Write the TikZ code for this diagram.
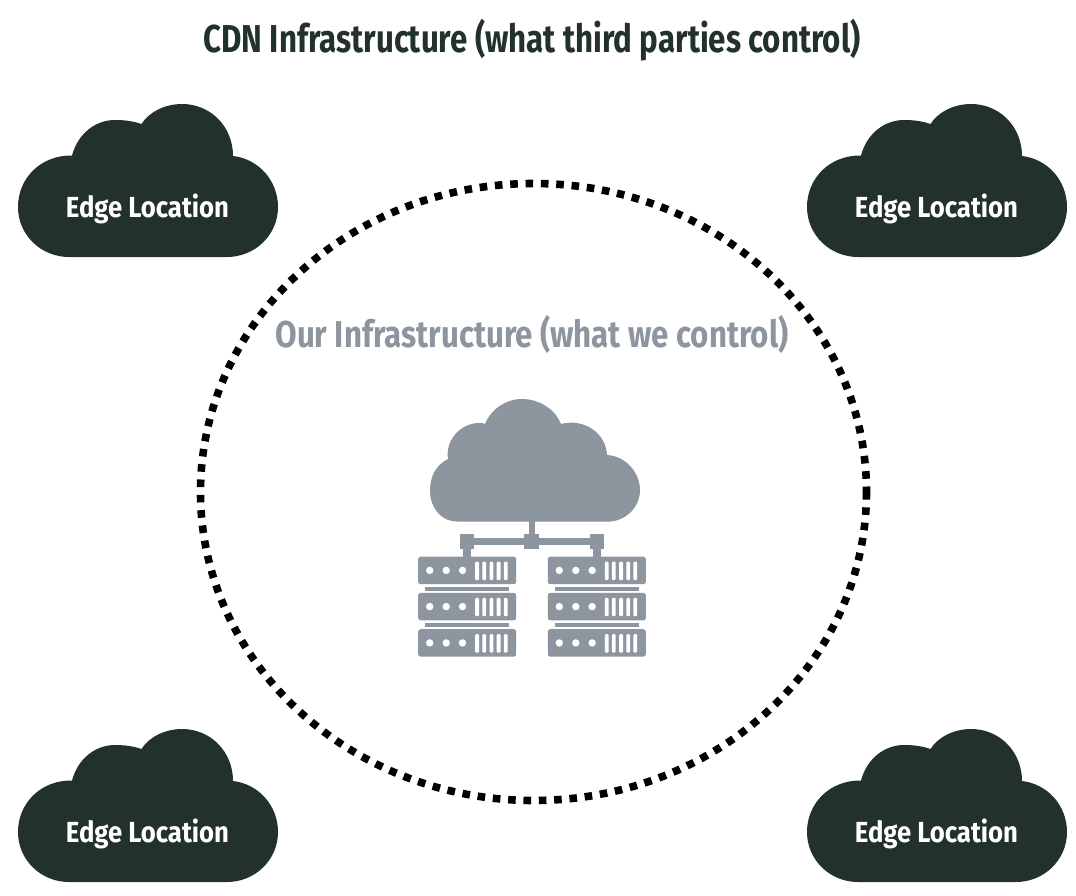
\documentclass[tikz,border=0pt]{standalone}
\usepackage{fontspec}
\setmainfont{Fira Sans}
\definecolor{darkc}{HTML}{22312E}
\definecolor{greyc}{HTML}{8D959F}
\tikzset{x=1pt,y=-1pt,
  darkcloud/.style={fill=darkc,draw=none},
  greyshape/.style={fill=greyc,draw=none},
  slot/.style={fill=white,draw=none,rounded corners=1pt},
  unit/.style={fill=greyc,draw=none,rounded corners=2.5pt},
  ring/.style={draw=black,line width=7.6pt,dash pattern=on 7.6pt off 7.75pt},
}
\newcommand{\edgecloud}[3]{%
  \begin{scope}[shift={(#1,#2)}]
  \path[darkcloud] (72,155.5)
    .. controls (78,133) and (96,120) .. (115,120)
    .. controls (124,120) and (133,121) .. (141.5,124)
    .. controls (149,112) and (165,104) .. (182,104)
    .. controls (211,104) and (233,127) .. (233,156)
    .. controls (259,159) and (278,181) .. (278,207)
    .. controls (278,235) and (255,257) .. (227,257)
    -- (69,257)
    .. controls (41,257) and (18,235) .. (18,207)
    .. controls (18,178) and (41,155) .. (72,155.5) -- cycle;
  \node[text=white] (#3) at (147.5,208.5) {\resizebox*{163pt}{30pt}{\bfseries Edge Location}};
  \end{scope}}
\newcommand{\rackrow}[2]{%
  \path[unit] (#1,#2) rectangle ++(98,27.5);
  \foreach \dx in {11.5,28,44.3} \fill[white] (#1+\dx,#2+13.7) circle (3.7);
  \foreach \dx in {57,64.1,71.4,78.5,85.6} \path[slot] (#1+\dx,#2+5) rectangle ++(3.8,18.3);}
\newcommand{\rack}[1]{%
  \rackrow{#1}{556.7}\rackrow{#1}{592.9}\rackrow{#1}{629.2}
  \path[greyshape] (#1+6.7,587.3) rectangle ++(84.3,3.4);
  \path[greyshape] (#1+6.7,623.4) rectangle ++(84.3,3.4);}
\begin{document}
\begin{tikzpicture}
\useasboundingbox (0,0) rectangle (1076,896);
\fill[white] (0,0) rectangle (1076,896);
\node[text=darkc] (title) at (532,40.5) {\resizebox*{657pt}{42pt}{\bfseries CDN Infrastructure (what third parties control)}};
\edgecloud{0}{0}{edgeA}
\edgecloud{789}{0}{edgeB}
\edgecloud{0}{625}{edgeC}
\edgecloud{789}{625}{edgeD}
\path[ring] (533.5,492) ellipse [x radius=333, y radius=308.5];
\node[text=greyc] (ours) at (532,334.5) {\resizebox*{513pt}{38pt}{\bfseries Our Infrastructure (what we control)}};
% server icon: cloud
\path[greyshape] (444,518)
  .. controls (436,513) and (430,503) .. (430,491)
  .. controls (430,476) and (436,465) .. (448,459)
  .. controls (445,440) and (461,423) .. (479,423)
  .. controls (481,423) and (483,423) .. (485,424)
  .. controls (491,409) and (506,399) .. (522,399)
  .. controls (539,399) and (555,409) .. (561,424)
  .. controls (584,418) and (606,433) .. (607,455)
  .. controls (626,456) and (640,473) .. (640,490)
  .. controls (640,507) and (626,521.7) .. (607,521.7)
  -- (462,521.7) .. controls (455,521.7) and (449,521) .. (444,518) -- cycle;
% connectors
\path[greyshape] (529,521) rectangle (535.3,535);
\path[greyshape] (524.3,534) rectangle (539.3,549);
\path[greyshape] (465,538) rectangle (600,545);
\path[greyshape] (460,534) rectangle (474,549);
\path[greyshape] (590,534) rectangle (604,549);
\path[greyshape] (463.3,549) rectangle (470.7,557);
\path[greyshape] (593.3,549) rectangle (600.7,557);
\rack{418.2}
\rack{547.8}
\end{tikzpicture}
\end{document}
